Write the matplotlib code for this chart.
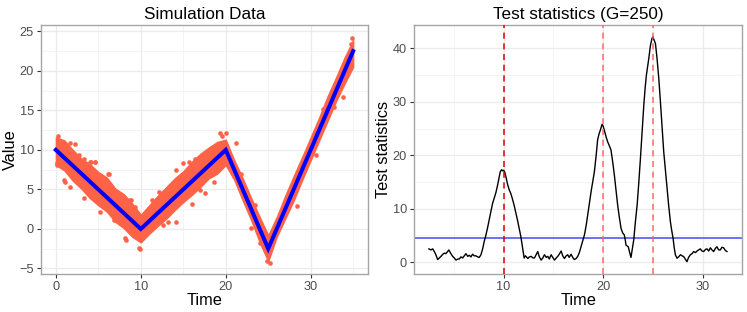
import numpy as np
import matplotlib.pyplot as plt
from matplotlib.ticker import MultipleLocator

plt.rcParams['font.family'] = ['Liberation Sans', 'DejaVu Sans']

# true signal (piecewise linear mean)
signal_time = [0, 10, 20, 25, 35]
signal_value = [10, 0, 10, -2.5, 22.5]

# envelope of the dense simulated point cloud, read at integer times
band_time = list(range(0, 36))
band_upper = [11.6, 11.2, 10.0, 8.9, 8.2, 7.2, 6.5, 5.1, 4.4, 3.2, 1.8,
              3.0, 4.2, 5.3, 6.4, 7.3, 8.5, 9.5, 10.3, 11.0, 11.3,
              8.7, 6.4, 3.9, 1.5, -0.8, 1.5, 4.2, 6.7, 9.1, 11.6,
              14.1, 16.8, 19.2, 21.7, 23.9]
band_lower = [8.1, 7.4, 6.1, 5.1, 3.9, 3.0, 2.2, 0.9, 0.1, -1.0, -1.7,
              -0.6, 0.4, 1.3, 2.4, 3.4, 4.3, 5.3, 6.4, 7.0, 8.1,
              6.2, 3.6, 1.1, -1.7, -4.1, -1.0, 1.3, 3.6, 6.2, 8.7,
              11.2, 13.7, 16.2, 18.4, 20.5]

# stray points around the dense band
outlier_time = [0.08, 1.06, 4.1, 4.57, 6.14, 8.79, 8.28, 9.85, 12.66, 14.1,
                14.2, 15.0, 15.7, 15.98, 17.6, 19.3, 20.0, 21.25, 23.0, 24.0,
                23.4, 24.8, 25.16, 27.5, 29.45, 33.75, 34.7, 34.9, 0.3, 2.3,
                1.72, 2.7, 3.28, 4.06, 4.65, 6.2, 0.16, 0.94, 1.72, 3.28,
                5.24, 6.8, 8.17, 8.76, 9.74, 9.35, 11.3, 13.2, 16.4, 18.6,
                12.2, 17.0, 19.6, 21.8, 22.5, 26.6, 28.4, 31.4, 30.6, 32.8]
outlier_value = [8.07, 5.97, 8.5, 8.5, 6.9, 3.66, -1.39, -2.56, 0.5, 0.92,
                 7.4, 8.3, 8.5, 3.2, 4.5, 12.2, 12.2, 10.9, 0.1, -1.8,
                 3.0, -4.1, -4.3, 3.0, 9.5, 16.7, 23.4, 24.1, 11.8, 10.8,
                 10.9, 9.3, 8.8, 8.5, 8.5, 6.9, 8.4, 6.2, 5.3, 3.9,
                 2.2, 1.1, -1.2, 3.66, -2.4, 2.8, 3.6, 0.9, 8.9, 5.9,
                 4.7, 4.9, 11.7, 6.9, 3.1, 2.3, 2.9, 15.2, 9.3, 15.4]

# test statistic, G = 250
stat_time = [2.5, 2.7, 2.88, 3.04, 3.2, 3.38, 3.55, 3.71, 3.9, 4.05,
             4.2, 4.38, 4.5, 4.65, 4.88, 5.05, 5.22, 5.4, 5.55, 5.72,
             5.89, 6.05, 6.22, 6.4, 6.56, 6.72, 6.89, 7.05, 7.22, 7.4,
             7.56, 7.73, 7.9, 8.06, 8.22, 8.39, 8.56, 8.73, 8.9, 9.06,
             9.23, 9.4, 9.55, 9.67, 9.8, 9.9, 10.02, 10.13, 10.25, 10.4,
             10.56, 10.74, 10.9, 11.07, 11.23, 11.4, 11.57, 11.74, 11.9, 12.07,
             12.2, 12.44, 12.6, 12.78, 12.95, 13.11, 13.3, 13.44, 13.6, 13.78,
             13.95, 14.11, 14.3, 14.45, 14.6, 14.78, 14.95, 15.12, 15.3, 15.45,
             15.6, 15.79, 15.95, 16.12, 16.3, 16.45, 16.6, 16.79, 16.95, 17.12,
             17.3, 17.46, 17.62, 17.79, 17.95, 18.13, 18.3, 18.46, 18.63, 18.8,
             18.96, 19.13, 19.3, 19.46, 19.6, 19.73, 19.9, 20.0, 20.13, 20.3,
             20.47, 20.63, 20.8, 20.97, 21.14, 21.3, 21.47, 21.64, 21.81, 21.97,
             22.14, 22.25, 22.31, 22.45, 22.54, 22.68, 22.81, 22.95, 23.09, 23.25,
             23.43, 23.6, 23.76, 23.93, 24.1, 24.23, 24.36, 24.48, 24.6, 24.77,
             24.93, 25.02, 25.1, 25.27, 25.43, 25.6, 25.77, 25.93, 26.1, 26.27,
             26.44, 26.6, 26.77, 26.9, 27.04, 27.15, 27.27, 27.44, 27.6, 27.78,
             27.95, 28.11, 28.3, 28.44, 28.6, 28.78, 28.95, 29.11, 29.3, 29.45,
             29.62, 29.78, 29.95, 30.12, 30.3, 30.45, 30.62, 30.79, 30.95, 31.12,
             31.3, 31.45, 31.62, 31.79, 31.95, 32.12, 32.3, 32.46]
stat_value = [2.5, 2.3, 2.5, 2.0, 1.4, 0.5, 0.8, 1.1, 1.5, 1.7,
              1.6, 2.0, 2.3, 1.8, 1.1, 0.8, 0.4, 0.6, 0.6, 1.0,
              0.8, 1.2, 1.6, 1.1, 1.3, 1.0, 1.5, 1.2, 1.2, 1.0,
              0.9, 1.4, 2.5, 3.9, 5.0, 6.4, 8.0, 9.5, 11.0, 12.0,
              13.0, 14.4, 15.8, 16.9, 17.3, 17.1, 17.2, 16.8, 15.9, 14.6,
              13.6, 12.8, 11.8, 10.6, 9.3, 7.9, 6.3, 4.8, 2.8, 0.8,
              1.2, 0.7, 1.0, 1.1, 0.8, 0.8, 1.5, 2.0, 1.0, 0.4,
              0.8, 1.4, 0.9, 1.1, 0.6, 1.4, 0.9, 0.4, 0.8, 1.1,
              1.5, 2.1, 1.2, 0.7, 1.2, 1.4, 0.9, 1.5, 0.9, 0.5,
              0.7, 1.1, 1.8, 2.9, 3.9, 5.1, 6.8, 8.8, 11.0, 13.2,
              15.0, 16.9, 19.8, 22.9, 24.0, 24.7, 25.8, 25.5, 24.7, 23.5,
              22.5, 21.8, 21.0, 18.8, 16.3, 13.5, 10.7, 8.4, 6.35, 5.5,
              5.1, 4.0, 3.2, 3.0, 2.9, 1.8, 0.9, 2.5, 4.2, 7.5,
              10.7, 15.0, 19.4, 24.5, 29.4, 32.5, 35.0, 36.5, 38.1, 40.6,
              41.9, 42.2, 41.7, 40.9, 38.1, 34.5, 30.0, 25.4, 20.7, 17.2,
              13.8, 10.6, 7.6, 6.0, 4.5, 2.8, 1.4, 0.75, 1.0, 1.4,
              1.2, 1.05, 0.5, 0.1, 0.9, 1.4, 1.6, 2.0, 1.8, 2.1,
              2.3, 2.5, 2.1, 2.0, 2.4, 2.5, 2.1, 2.7, 2.3, 2.0,
              2.6, 2.9, 2.3, 2.3, 2.8, 2.7, 2.2, 2.0]

threshold = 4.55
change_points = [10, 20, 25]
change_colors = ['#E00000', '#FF6A6A', '#FF6A6A']

point_color = '#FF6347'


def style_panel(ax):
    ax.set_facecolor('white')
    for side in ax.spines.values():
        side.set_color('#A6A6A6')
        side.set_linewidth(1.0)
    ax.grid(which='major', color='#EBEBEB', linewidth=0.9)
    ax.grid(which='minor', color='#F3F3F3', linewidth=0.6)
    ax.set_axisbelow(True)
    ax.tick_params(which='major', length=3, width=0.8, color='#333333',
                   labelsize=9.2, labelcolor='#4D4D4D', pad=2)
    ax.tick_params(which='minor', length=0)


fig = plt.figure(figsize=(7.47, 3.12), dpi=100)

# left panel: simulated data
ax1 = fig.add_axes([41 / 747, 38 / 312, 327 / 747, 249 / 312])
style_panel(ax1)
ax1.fill_between(band_time, band_lower, band_upper, color=point_color,
                 linewidth=1.0, edgecolor=point_color, zorder=2)
ax1.scatter(outlier_time, outlier_value, s=11, color=point_color,
            linewidths=0, zorder=2)
ax1.plot(signal_time, signal_value, color='#0000FF', linewidth=2.9,
         solid_joinstyle='miter', zorder=3)
ax1.set_xlim(-1.75, 36.75)
ax1.set_ylim(-5.7, 25.8)
ax1.xaxis.set_major_locator(MultipleLocator(10))
ax1.xaxis.set_minor_locator(MultipleLocator(5))
ax1.yaxis.set_major_locator(MultipleLocator(5))
ax1.yaxis.set_minor_locator(MultipleLocator(2.5))
ax1.set_title('Simulation Data', fontsize=12.3, pad=4)
ax1.set_xlabel('Time', fontsize=11.8, labelpad=0)
ax1.set_ylabel('Value', fontsize=11.8, labelpad=1)

# right panel: test statistics
ax2 = fig.add_axes([414 / 747, 38 / 312, 328.3 / 747, 249 / 312])
style_panel(ax2)
ax2.plot(stat_time, stat_value, color='black', linewidth=1.0, zorder=3)
ax2.axhline(threshold, color='#6E6EFF', linewidth=1.4, zorder=2)
for cp, col in zip(change_points, change_colors):
    ax2.axvline(cp, color=col, linewidth=1.1, linestyle=(0, (4, 3)), zorder=4)
ax2.set_xlim(1.0, 34.0)
ax2.set_ylim(-2.2, 44.36)
ax2.xaxis.set_major_locator(MultipleLocator(10))
ax2.xaxis.set_minor_locator(MultipleLocator(5))
ax2.yaxis.set_major_locator(MultipleLocator(10))
ax2.yaxis.set_minor_locator(MultipleLocator(5))
ax2.set_title('Test statistics (G=250)', fontsize=12.3, pad=4)
ax2.set_xlabel('Time', fontsize=11.8, labelpad=0)
ax2.set_ylabel('Test statistics', fontsize=11.8, labelpad=1)

fig.savefig('out.png', dpi=100)
